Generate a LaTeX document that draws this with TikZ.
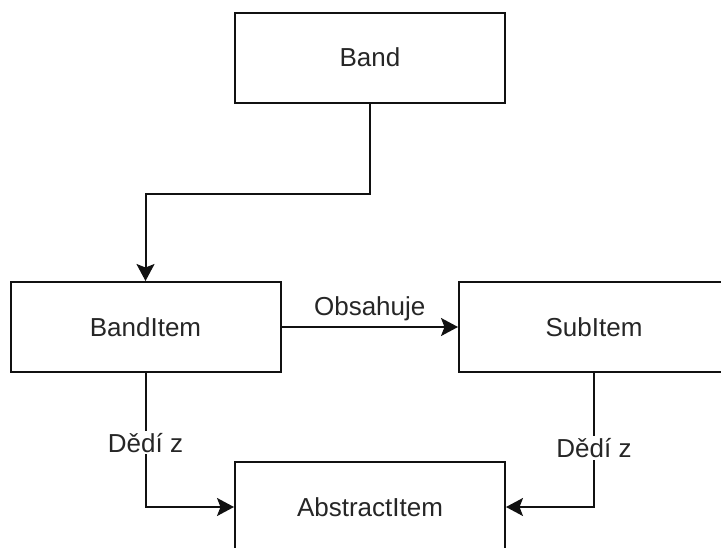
\documentclass[tikz,border=0pt]{standalone}
\usepackage{fontspec}
\setmainfont{Liberation Sans}
\usetikzlibrary{arrows.meta,calc}

\definecolor{inkline}{HTML}{111111}
\definecolor{inktext}{HTML}{262626}

\tikzset{
  x=1pt, y=-1pt,
  entity/.style={draw=inkline, line width=2pt, fill=white,
    minimum width=270pt, minimum height=90pt, inner sep=0pt,
    font=\fontsize{26}{30}\selectfont, text=inktext},
  link/.style={draw=inkline, line width=2pt,
    -{Stealth[length=17pt, width=18pt, inset=3.5pt]}},
  linklabel/.style={fill=white, inner sep=2pt,
    font=\fontsize{26}{30}\selectfont, text=inktext}
}

\begin{document}
\begin{tikzpicture}
  \useasboundingbox (0,0) rectangle (721,547);
  \clip (0,0) rectangle (721,547);

  % classes
  \node[entity] (band)     at (370,57.5) {Band};
  \node[entity] (banditem) at (145.5,327) {BandItem};
  \node[entity] (subitem)  at (594,327) {SubItem};
  \node[entity] (abstract) at (370,507) {AbstractItem};

  % containment
  \draw[link] (band.south) -- ++(0,90) -| (banditem.north);
  \draw[link] (banditem.east) -- (subitem.west)
    node[midway, above=3pt, linklabel, fill=none] {Obsahuje};

  % inheritance
  \draw[link] (banditem.south) |- (abstract.west)
    node[pos=0.26, linklabel] {Dědí z};
  \draw[link] (subitem.south) |- (abstract.east)
    node[pos=0.28, linklabel] {Dědí z};
\end{tikzpicture}
\end{document}
